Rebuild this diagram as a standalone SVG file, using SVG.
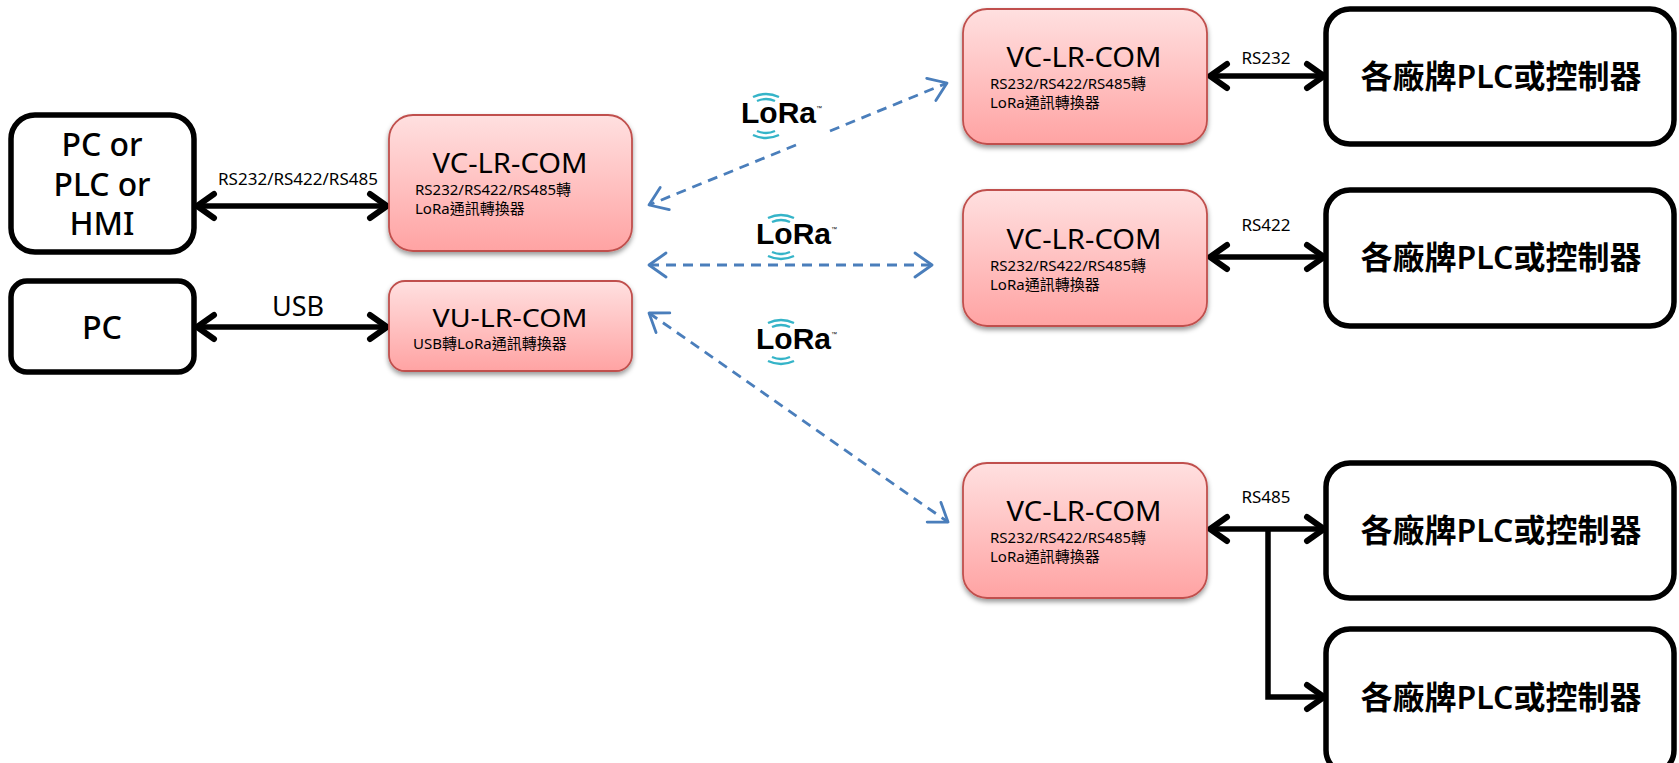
<svg xmlns="http://www.w3.org/2000/svg" width="1679" height="763" viewBox="0 0 1679 763">
<style>
text{font-family:"Noto Sans","Noto Sans CJK TC",sans-serif;fill:#000}
.blk{fill:#fff;stroke:#000;stroke-width:5.5}
.red{fill:url(#rg);stroke:#c0504d;stroke-width:1.8;filter:url(#sh)}
.t{font-size:28px;text-anchor:middle}
.s{font-size:15px}
.b{font-size:32px;font-weight:500;text-anchor:middle}
.p{font-size:32px;font-weight:600;text-anchor:middle}
.l{font-size:17px;text-anchor:middle}
.c{fill:none;stroke:#000;stroke-width:5.5}
.d{fill:none;stroke:#4a7ebb;stroke-width:2.8;stroke-dasharray:10 7}
.arc{fill:none;stroke:#35b4c8;stroke-width:2.4}
.lg{font-size:30px;font-weight:700;font-family:"Liberation Sans",sans-serif}
.tm{font-size:6px;font-weight:400}
</style>
<defs>
<linearGradient id="rg" x1="0" y1="0" x2="0" y2="1"><stop offset="0" stop-color="#ffe0e0"/><stop offset="1" stop-color="#ffa3a3"/></linearGradient>
<filter id="sh" x="-10%" y="-10%" width="120%" height="125%"><feDropShadow dx="0" dy="3" stdDeviation="2.5" flood-color="#000" flood-opacity=".4"/></filter>
<marker id="ka" markerUnits="userSpaceOnUse" markerWidth="30" markerHeight="34" refX="22" refY="15" orient="auto-start-reverse" overflow="visible"><path d="M5 3L22 15L5 27" fill="none" stroke="#000" stroke-width="6" stroke-linecap="round"/></marker>
<marker id="ba" markerUnits="userSpaceOnUse" markerWidth="30" markerHeight="34" refX="20" refY="14" orient="auto-start-reverse" overflow="visible"><path d="M3 2L20 14L3 26" fill="none" stroke="#4a7ebb" stroke-width="2.8" stroke-linecap="round" stroke-linejoin="round"/></marker>
<g id="lora-logo">
<path class="arc" d="M-13 -15Q0 -21 13 -15M-9 -11Q0 -15 9 -11"/>
<path class="arc" d="M-13 23Q0 29 13 23M-9 19Q0 23 9 19"/>
</g>
</defs>
<g id="connectors">
<path class="c" d="M197 206H387" marker-start="url(#ka)" marker-end="url(#ka)"/>
<path class="c" d="M197 327H387" marker-start="url(#ka)" marker-end="url(#ka)"/>
<path class="c" d="M1210 76H1324" marker-start="url(#ka)" marker-end="url(#ka)"/>
<path class="c" d="M1210 257H1324" marker-start="url(#ka)" marker-end="url(#ka)"/>
<path class="c" d="M1210 529H1324" marker-start="url(#ka)" marker-end="url(#ka)"/>
<path class="c" d="M1268 529V697H1324" marker-end="url(#ka)"/>
<path class="d" d="M796 145L649 205" marker-end="url(#ba)"/>
<path class="d" d="M830 131L947 83" marker-end="url(#ba)"/>
<path class="d" d="M649 265H932" marker-start="url(#ba)" marker-end="url(#ba)"/>
<path class="d" d="M649 313L948 522" marker-start="url(#ba)" marker-end="url(#ba)"/>
</g>
<g id="n-pc-plc-hmi"><rect class="blk" x="11" y="115" width="183" height="137" rx="24"/>
<text class="b" x="102" y="156" textLength="81" lengthAdjust="spacingAndGlyphs">PC or</text><text class="b" x="102" y="196" textLength="97" lengthAdjust="spacingAndGlyphs">PLC or</text><text class="b" x="102" y="235" textLength="65" lengthAdjust="spacingAndGlyphs">HMI</text></g>
<g id="n-pc"><rect class="blk" x="11" y="281" width="183" height="91" rx="16"/><text class="b" x="102" y="339" textLength="40" lengthAdjust="spacingAndGlyphs">PC</text></g>
<g id="n-vc-left"><rect class="red" x="389" y="115" width="243" height="136" rx="24"/>
<text class="t" x="510" y="173" textLength="155" lengthAdjust="spacingAndGlyphs">VC-LR-COM</text><text class="s" x="415" y="195">RS232/RS422/RS485轉</text><text class="s" x="415" y="214">LoRa通訊轉換器</text></g>
<g id="n-vu"><rect class="red" x="389" y="281" width="243" height="90" rx="16"/>
<text class="t" x="510" y="327" textLength="155" lengthAdjust="spacingAndGlyphs" style="font-size:26px">VU-LR-COM</text><text class="s" x="413" y="349">USB轉LoRa通訊轉換器</text></g>
<g id="n-vc1"><rect class="red" x="963" y="9" width="244" height="135" rx="24"/>
<text class="t" x="1084" y="67" textLength="155" lengthAdjust="spacingAndGlyphs">VC-LR-COM</text><text class="s" x="990" y="89">RS232/RS422/RS485轉</text><text class="s" x="990" y="108">LoRa通訊轉換器</text></g>
<g id="n-vc2"><rect class="red" x="963" y="190" width="244" height="136" rx="24"/>
<text class="t" x="1084" y="249" textLength="155" lengthAdjust="spacingAndGlyphs">VC-LR-COM</text><text class="s" x="990" y="271">RS232/RS422/RS485轉</text><text class="s" x="990" y="290">LoRa通訊轉換器</text></g>
<g id="n-vc3"><rect class="red" x="963" y="463" width="244" height="135" rx="24"/>
<text class="t" x="1084" y="521" textLength="155" lengthAdjust="spacingAndGlyphs">VC-LR-COM</text><text class="s" x="990" y="543">RS232/RS422/RS485轉</text><text class="s" x="990" y="562">LoRa通訊轉換器</text></g>
<g id="n-plc1"><rect class="blk" x="1326" y="9" width="348" height="135" rx="24"/><text class="p" x="1501" y="88">各廠牌PLC或控制器</text></g>
<g id="n-plc2"><rect class="blk" x="1326" y="190" width="348" height="136" rx="24"/><text class="p" x="1501" y="269">各廠牌PLC或控制器</text></g>
<g id="n-plc3"><rect class="blk" x="1326" y="463" width="348" height="135" rx="24"/><text class="p" x="1501" y="542">各廠牌PLC或控制器</text></g>
<g id="n-plc4"><rect class="blk" x="1326" y="629" width="348" height="145" rx="24"/><text class="p" x="1501" y="709">各廠牌PLC或控制器</text></g>
<g id="labels">
<text class="l" x="298" y="185">RS232/RS422/RS485</text>
<text x="298" y="316" style="font-size:27px;text-anchor:middle">USB</text>
<text class="l" x="1266" y="64">RS232</text>
<text class="l" x="1266" y="231">RS422</text>
<text class="l" x="1266" y="503">RS485</text>
</g>
<g id="lora1"><use href="#lora-logo" x="766" y="112"/><text class="lg" x="741" y="123">LoRa<tspan class="tm" dy="-13">™</tspan></text></g>
<g id="lora2"><use href="#lora-logo" x="781" y="233"/><text class="lg" x="756" y="244">LoRa<tspan class="tm" dy="-13">™</tspan></text></g>
<g id="lora3"><use href="#lora-logo" x="781" y="338"/><text class="lg" x="756" y="349">LoRa<tspan class="tm" dy="-13">™</tspan></text></g>
</svg>
